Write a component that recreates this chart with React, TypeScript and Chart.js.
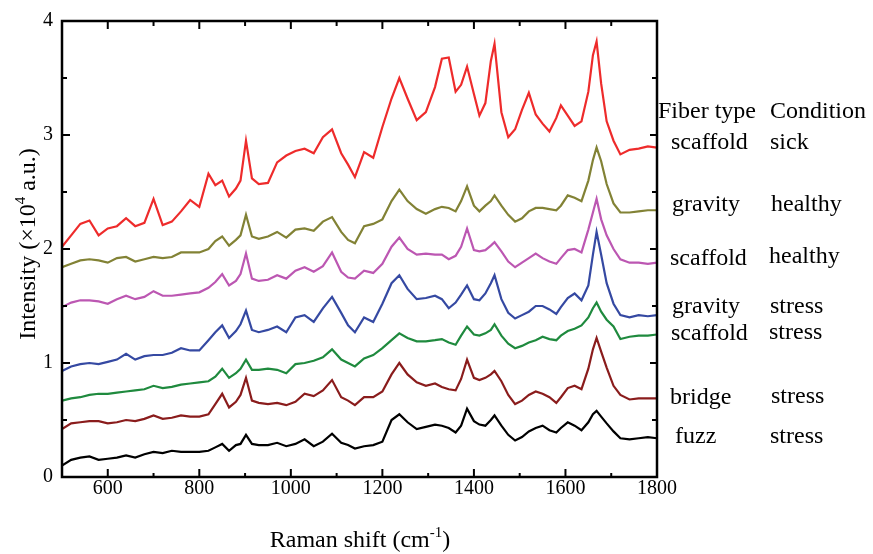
import React, { useEffect, useRef } from "react";
import { Chart, registerables } from "chart.js";

Chart.register(...registerables);

// ---------- data ----------
const ramanShift = [500,520,540,560,580,600,620,640,660,680,700,720,740,760,780,800,820,835,850,865,880,890,902,915,930,950,970,990,1010,1030,1050,1070,1090,1110,1125,1140,1160,1180,1200,1220,1237,1255,1275,1295,1315,1330,1345,1360,1372,1385,1400,1412,1425,1437,1445,1460,1475,1490,1505,1520,1535,1550,1565,1580,1590,1605,1620,1635,1650,1660,1668,1678,1690,1705,1720,1740,1760,1780,1800];

const scaffoldSick = [2.02,2.12,2.22,2.25,2.12,2.18,2.2,2.27,2.2,2.23,
2.44,2.21,2.24,2.33,2.43,2.37,2.66,2.56,2.6,2.46,
2.53,2.6,2.95,2.62,2.57,2.58,2.76,2.82,2.86,2.88,
2.84,2.98,3.05,2.84,2.74,2.63,2.85,2.8,3.07,3.32,
3.5,3.32,3.13,3.2,3.42,3.67,3.68,3.38,3.44,3.6,
3.36,3.17,3.28,3.65,3.8,3.2,2.98,3.05,3.22,3.37,
3.18,3.1,3.03,3.15,3.26,3.17,3.08,3.12,3.38,3.7,
3.82,3.45,3.12,2.95,2.83,2.87,2.88,2.9,2.89];

const gravityHealthy = [1.84,1.87,1.9,1.91,1.9,1.88,1.92,1.93,1.89,1.91,
1.93,1.92,1.93,1.97,1.97,1.97,2.0,2.07,2.11,2.03,
2.08,2.12,2.3,2.11,2.09,2.11,2.15,2.1,2.17,2.18,
2.16,2.24,2.28,2.15,2.08,2.05,2.2,2.22,2.26,2.42,
2.52,2.42,2.35,2.31,2.35,2.37,2.36,2.33,2.42,2.55,
2.38,2.33,2.38,2.42,2.47,2.38,2.3,2.24,2.27,2.33,
2.36,2.36,2.35,2.34,2.38,2.47,2.45,2.42,2.6,2.78,
2.89,2.77,2.57,2.4,2.32,2.32,2.33,2.34,2.34];

const scaffoldHealthy = [1.49,1.53,1.55,1.55,1.54,1.52,1.56,1.59,1.56,1.58,
1.63,1.59,1.59,1.6,1.61,1.62,1.66,1.71,1.78,1.68,
1.72,1.78,1.96,1.74,1.72,1.73,1.77,1.74,1.81,1.84,
1.8,1.85,1.97,1.8,1.75,1.74,1.81,1.79,1.87,2.02,
2.1,2.0,1.95,1.96,1.95,1.95,1.91,1.94,2.02,2.18,
1.99,1.98,1.99,2.03,2.06,1.98,1.89,1.84,1.88,1.92,
1.96,1.92,1.89,1.87,1.92,1.99,2.0,1.97,2.17,2.32,
2.44,2.26,2.12,2.0,1.91,1.88,1.88,1.87,1.88];

const gravityStress = [0.93,0.97,0.99,1.0,0.99,1.01,1.03,1.08,1.03,1.06,
1.07,1.07,1.09,1.13,1.11,1.11,1.2,1.27,1.33,1.22,
1.28,1.34,1.46,1.29,1.27,1.29,1.32,1.27,1.4,1.42,
1.36,1.48,1.58,1.44,1.33,1.27,1.4,1.36,1.52,1.7,
1.77,1.65,1.56,1.57,1.59,1.56,1.48,1.53,1.6,1.68,
1.56,1.55,1.61,1.7,1.77,1.56,1.44,1.39,1.42,1.45,
1.5,1.5,1.47,1.43,1.49,1.57,1.61,1.55,1.68,1.95,
2.15,1.95,1.7,1.52,1.42,1.4,1.42,1.41,1.42];

const scaffoldStress = [0.67,0.69,0.7,0.72,0.73,0.73,0.74,0.75,0.76,0.77,
0.8,0.78,0.79,0.81,0.82,0.83,0.84,0.88,0.95,0.87,
0.91,0.95,1.03,0.94,0.94,0.95,0.94,0.91,0.99,1.0,
1.02,1.05,1.12,1.03,1.0,0.97,1.04,1.07,1.13,1.2,
1.26,1.22,1.19,1.19,1.2,1.21,1.18,1.16,1.24,1.32,
1.25,1.24,1.26,1.29,1.34,1.24,1.17,1.13,1.15,1.18,
1.2,1.23,1.21,1.2,1.24,1.28,1.3,1.33,1.4,1.48,
1.53,1.45,1.38,1.32,1.21,1.23,1.24,1.24,1.25];

const bridgeStress = [0.42,0.47,0.48,0.49,0.49,0.47,0.48,0.5,0.49,0.51,
0.54,0.51,0.52,0.54,0.53,0.53,0.55,0.64,0.73,0.61,
0.66,0.72,0.87,0.67,0.65,0.64,0.65,0.63,0.66,0.73,
0.71,0.76,0.85,0.7,0.67,0.63,0.7,0.7,0.75,0.9,
1.0,0.9,0.83,0.8,0.82,0.79,0.77,0.76,0.86,1.03,
0.87,0.85,0.87,0.9,0.93,0.84,0.72,0.64,0.67,0.72,
0.75,0.73,0.7,0.65,0.7,0.78,0.8,0.77,0.95,1.12,
1.22,1.1,0.96,0.8,0.72,0.68,0.69,0.69,0.69];

const fuzzStress = [0.1,0.15,0.17,0.18,0.15,0.16,0.17,0.19,0.17,0.2,
0.22,0.21,0.23,0.22,0.22,0.22,0.23,0.26,0.29,0.23,
0.28,0.29,0.37,0.29,0.28,0.28,0.3,0.27,0.29,0.33,
0.27,0.31,0.38,0.3,0.28,0.25,0.27,0.28,0.31,0.5,
0.55,0.48,0.42,0.44,0.46,0.45,0.43,0.39,0.45,0.6,
0.49,0.46,0.45,0.5,0.54,0.45,0.37,0.32,0.35,0.4,
0.43,0.45,0.41,0.39,0.43,0.48,0.45,0.41,0.48,0.55,
0.58,0.53,0.47,0.4,0.34,0.33,0.34,0.35,0.34];

const xTickLabels = [600, 800, 1000, 1200, 1400, 1600, 1800];
const xMinorTicks = [700, 900, 1100, 1300, 1500, 1700];
const yTickLabels = [0, 1, 2, 3, 4];
const yMinorTicks = [0.5, 1.5, 2.5, 3.5];

const fiberTypes = ["scaffold", "gravity", "scaffold", "gravity", "scaffold", "bridge", "fuzz"];
const conditions = ["sick", "healthy", "healthy", "stress", "stress", "stress", "stress"];

// ---------- styling / layout ----------
const SERIF = '"Liberation Serif", "Times New Roman", serif';
const seriesList = [
  { data: scaffoldSick, color: "#EE2B2B" },
  { data: gravityHealthy, color: "#828235" },
  { data: scaffoldHealthy, color: "#BC57B2" },
  { data: gravityStress, color: "#3549A2" },
  { data: scaffoldStress, color: "#1F8A3E" },
  { data: bridgeStress, color: "#8A1C1C" },
  { data: fuzzStress, color: "#000000" },
];
const fiberX = [671, 672, 670, 672, 671, 670, 675];
const fiberBase = [149, 211, 265, 313, 340, 404, 443];
const condX = [770, 771, 769, 770, 769, 771, 770];
const condBase = [149, 211, 263, 313, 339, 403, 443];

type Piece = { text: string; size: number; rise?: number };

function drawPieces(ctx: CanvasRenderingContext2D, pieces: Piece[], x: number, y: number) {
  let total = 0;
  for (const p of pieces) {
    ctx.font = `${p.size}px ${SERIF}`;
    total += ctx.measureText(p.text).width;
  }
  let cx = x - total / 2;
  ctx.textAlign = "left";
  ctx.textBaseline = "alphabetic";
  for (const p of pieces) {
    ctx.font = `${p.size}px ${SERIF}`;
    ctx.fillText(p.text, cx, y - (p.rise || 0));
    cx += ctx.measureText(p.text).width;
  }
}

const decorPlugin = {
  id: "decor",
  afterDraw(chart: any) {
    const ctx: CanvasRenderingContext2D = chart.ctx;
    const { left, right, top, bottom } = chart.chartArea;
    const xs = chart.scales.x;
    const ys = chart.scales.y;
    ctx.save();
    ctx.strokeStyle = "#000";
    ctx.fillStyle = "#000";
    ctx.lineWidth = 2.5;
    ctx.strokeRect(left, top, right - left, bottom - top);
    ctx.lineWidth = 2;
    ctx.beginPath();
    const tick = (x1: number, y1: number, x2: number, y2: number) => {
      ctx.moveTo(x1, y1);
      ctx.lineTo(x2, y2);
    };
    for (const v of xTickLabels) {
      const px = xs.getPixelForValue(v);
      tick(px, bottom, px, bottom - 8);
      tick(px, top, px, top + 8);
    }
    for (const v of xMinorTicks) {
      const px = xs.getPixelForValue(v);
      tick(px, bottom, px, bottom - 4);
      tick(px, top, px, top + 5);
    }
    for (const v of yTickLabels) {
      const py = ys.getPixelForValue(v);
      tick(left, py, left + 8, py);
      tick(right, py, right - 7, py);
    }
    for (const v of yMinorTicks) {
      const py = ys.getPixelForValue(v);
      tick(left, py, left + 5, py);
      tick(right, py, right - 5, py);
    }
    ctx.stroke();

    // axis titles
    drawPieces(ctx, [
      { text: "Raman shift (cm", size: 24 },
      { text: "-1", size: 15, rise: 10 },
      { text: ")", size: 24 },
    ], 360, 547);
    ctx.save();
    ctx.translate(35, 244);
    ctx.rotate(-Math.PI / 2);
    drawPieces(ctx, [
      { text: "Intensity (\u00D710", size: 24 },
      { text: "4", size: 15, rise: 10 },
      { text: " a.u.)", size: 24 },
    ], 0, 0);
    ctx.restore();

    // annotations
    ctx.font = `24px ${SERIF}`;
    ctx.textAlign = "left";
    ctx.textBaseline = "alphabetic";
    ctx.fillText("Fiber type", 658, 118);
    ctx.fillText("Condition", 770, 118);
    fiberTypes.forEach((t, i) => ctx.fillText(t, fiberX[i], fiberBase[i]));
    conditions.forEach((t, i) => ctx.fillText(t, condX[i], condBase[i]));
    ctx.restore();
  },
};

export default function App() {
  const ref = useRef<HTMLCanvasElement | null>(null);
  useEffect(() => {
    if (!ref.current) return;
    const chart = new Chart(ref.current, {
      type: "line",
      data: {
        datasets: seriesList.map((s) => ({
          data: ramanShift.map((x, i) => ({ x, y: s.data[i] })),
          borderColor: s.color,
          backgroundColor: s.color,
          borderWidth: 2.2,
          pointRadius: 0,
          tension: 0,
          fill: false,
        })),
      },
      options: {
        animation: false,
        responsive: true,
        maintainAspectRatio: false,
        layout: { padding: { left: 0, right: 216, top: 15, bottom: 0 } },
        plugins: { legend: { display: false }, tooltip: { enabled: false } },
        scales: {
          x: {
            type: "linear",
            min: 500,
            max: 1800,
            afterBuildTicks: (s: any) => {
              s.ticks = xTickLabels.map((v) => ({ value: v }));
            },
            afterFit: (s: any) => {
              s.height = 77;
            },
            grid: { display: false, drawTicks: false },
            border: { display: false },
            ticks: {
              color: "#000",
              font: { family: SERIF, size: 20 },
              padding: 0,
              maxRotation: 0,
              autoSkip: false,
              callback: (v: any) => String(v),
            },
          },
          y: {
            type: "linear",
            min: 0,
            max: 4,
            afterBuildTicks: (s: any) => {
              s.ticks = yTickLabels.map((v) => ({ value: v }));
            },
            afterFit: (s: any) => {
              s.width = 62;
            },
            grid: { display: false, drawTicks: false },
            border: { display: false },
            ticks: {
              color: "#000",
              font: { family: SERIF, size: 20 },
              padding: 9,
              autoSkip: false,
              callback: (v: any) => String(v),
            },
          },
        },
      },
      plugins: [decorPlugin],
    });
    return () => chart.destroy();
  }, []);
  return (
    <div style={{ position: "fixed", left: 0, top: 0, width: 873, height: 554, background: "#fff" }}>
      <canvas ref={ref} />
    </div>
  );
}
